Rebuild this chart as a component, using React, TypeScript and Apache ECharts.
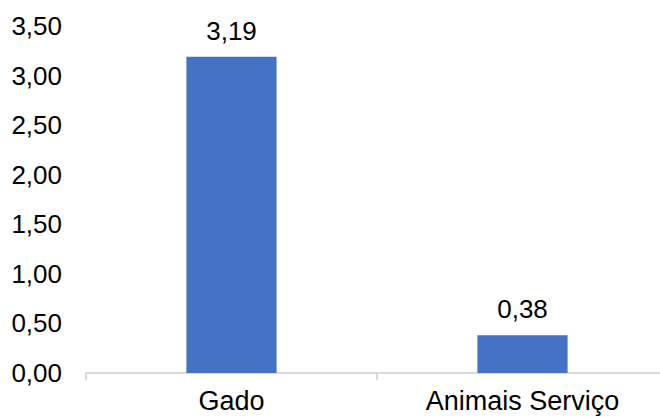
import React, { useEffect, useRef } from "react";
import * as echarts from "echarts";

const categories = ["Gado", "Animais Serviço"];
const values = [3.19, 0.38];
const yMin = 0;
const yMax = 3.5;
const yInterval = 0.5;

const fmt = (v: number) => v.toFixed(2).replace(".", ",");
const FONT = "Liberation Sans";
const FS = 26;

export default function App() {
  const ref = useRef<HTMLDivElement>(null);
  useEffect(() => {
    const chart = echarts.init(ref.current!, null, { renderer: "svg" });
    chart.setOption({
      animation: false,
      grid: { left: 86, right: 0, top: 26, bottom: 44, containLabel: false },
      xAxis: {
        type: "category",
        data: categories,
        axisLine: { lineStyle: { color: "#d9d9d9", width: 2 } },
        axisTick: { show: true, alignWithLabel: false, length: 7, lineStyle: { color: "#d9d9d9", width: 2 } },
        axisLabel: {
          color: "#000",
          fontFamily: FONT,
          fontSize: 27,
          margin: 14,
        },
      },
      yAxis: {
        type: "value",
        min: yMin,
        max: yMax,
        interval: yInterval,
        splitLine: { show: false },
        axisLine: { show: false },
        axisTick: { show: false },
        axisLabel: {
          color: "#000",
          fontFamily: FONT,
          fontSize: FS,
          margin: 24,
          formatter: (v: number) => fmt(v),
        },
      },
      series: [
        {
          type: "bar",
          data: values,
          barWidth: "31%",
          itemStyle: { color: "#4472C4" },
          label: {
            show: true,
            position: "top",
            distance: 13,
            color: "#000",
            fontFamily: FONT,
            fontSize: FS,
            formatter: (p: any) => fmt(p.value),
          },
        },
      ],
    });
    return () => chart.dispose();
  }, []);
  return (
    <div style={{ position: "absolute", left: 0, top: 0, width: 660, height: 417, overflow: "hidden" }}>
      <div ref={ref} style={{ width: 668, height: 417 }} />
    </div>
  );
}
